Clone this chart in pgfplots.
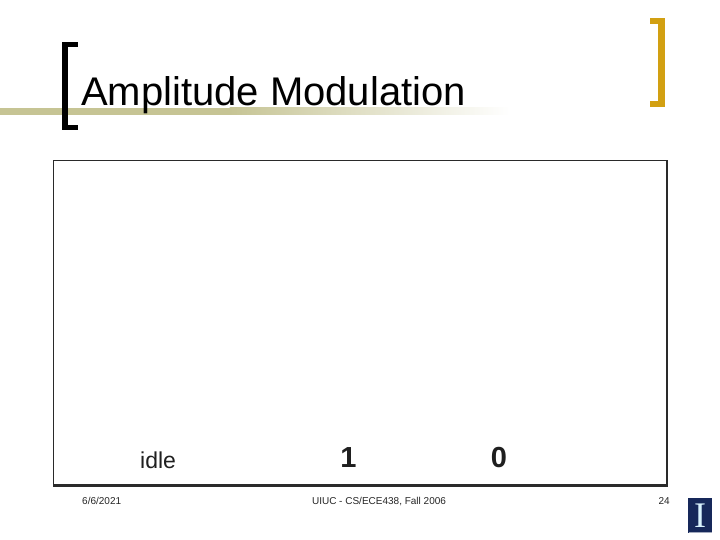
\documentclass[border=0pt]{standalone}
\usepackage{pgfplots}
\pgfplotsset{compat=1.18}
\usepackage{fontspec}
\setmainfont{Liberation Sans}
\newfontfamily\seriffont{Liberation Serif}
\definecolor{khaki}{HTML}{C6C494}
\definecolor{gold}{HTML}{D2A012}
\definecolor{navy}{HTML}{16285A}
\definecolor{boxline}{HTML}{2A2A2A}
\begin{document}
\begin{tikzpicture}[x=1pt,y=1pt]
% slide background
\fill[white] (0,0) rectangle (720,540);
% gradient rule under title
\fill[khaki] (0,425) rectangle (230,432);
\shade[left color=khaki, right color=white] (229.5,425) rectangle (510,432);
% black bracket
\fill[black] (62,410) rectangle (68,498);
\fill[black] (62,493) rectangle (78,498);
\fill[black] (62,410) rectangle (78,415);
% gold bracket
\fill[gold] (658,433) rectangle (665,522);
\fill[gold] (650,516) rectangle (665,522);
\fill[gold] (650,433) rectangle (665,439);
% title
\node[anchor=base west, inner sep=0, font=\fontsize{40}{48}\selectfont] at (81,434) {Amplitude Modulation};
% content box as an axis
\begin{axis}[
  at={(53,54)}, anchor=south west,
  scale only axis, width=614pt, height=326pt,
  xmin=0, xmax=614, ymin=0, ymax=326,
  ticks=none,
  axis line style={draw=boxline, line width=0.9pt},
  clip=false,
]
\addplot[draw=none, nodes near coords, point meta=explicit symbolic,
  every node near coord/.append style={anchor=base west, inner sep=0, text=black!88,
    font=\fontsize{23}{27}\selectfont}]
  table[meta=label] {
x y label
87 17 idle
};
\addplot[draw=none, nodes near coords, point meta=explicit symbolic,
  every node near coord/.append style={anchor=base, inner sep=0, text=black!88,
    font=\fontsize{29}{34}\bfseries\selectfont}]
  table[meta=label] {
x y label
295.5 18 1
446 18 0
};
\draw[boxline, line width=3pt] (axis cs:0,0) -- (axis cs:614,0);
\draw[boxline, line width=2.2pt] (axis cs:614,-1) -- (axis cs:614,326);
\end{axis}
% footer
\node[anchor=base west, inner sep=0, text=black!85, font=\fontsize{10}{12}\selectfont] at (82,35) {6/6/2021};
\node[anchor=base, inner sep=0, text=black!85, font=\fontsize{10}{12}\selectfont] at (379,35) {UIUC - CS/ECE438, Fall 2006};
\node[anchor=base east, inner sep=0, text=black!85, font=\fontsize{10}{12}\selectfont] at (670,35) {24};
% logo
\fill[navy] (688,7) rectangle (712,42);
\draw[white!60!navy, line width=0.5pt] (688.5,8) -- (711.5,8);
\node[anchor=base, inner sep=0, text=white!85!cyan, font=\seriffont\fontsize{36}{40}\selectfont] at (700,12) {I};
\end{tikzpicture}
\end{document}
